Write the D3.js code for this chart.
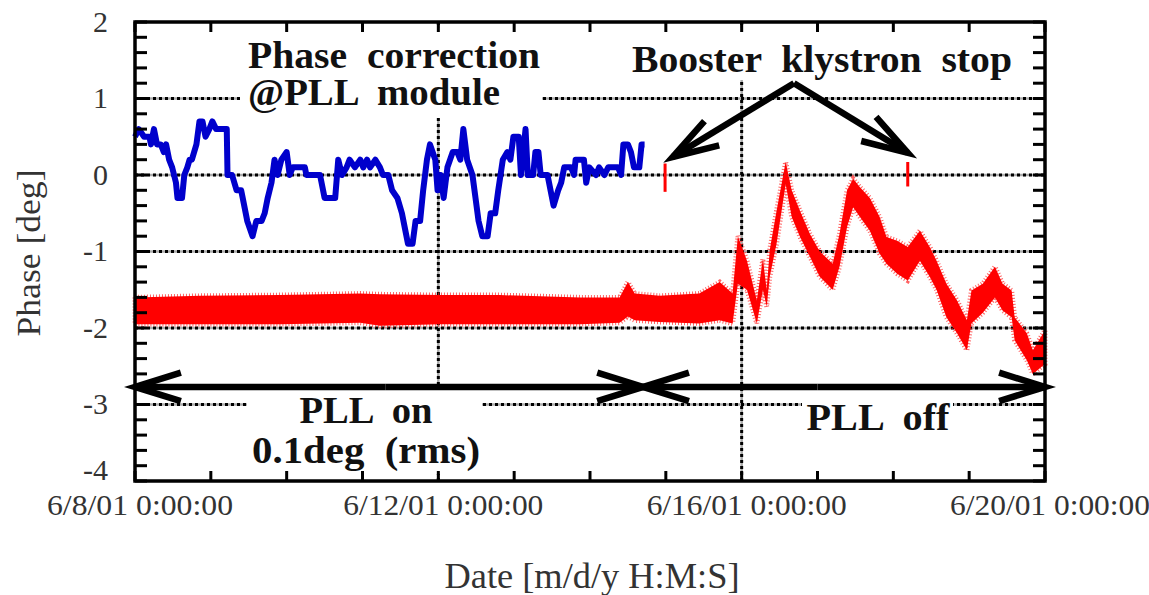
<!DOCTYPE html>
<html>
<head>
<meta charset="utf-8">
<script src="https://cdn.jsdelivr.net/npm/d3@7"></script>
<style>
  body { margin: 0; background: #fff; }
  svg text { font-family: "Liberation Serif", "Times New Roman", serif; }
</style>
</head>
<body>
<div id="chart"></div>
<script>
// Phase correction at the PLL module (days after 6/8/01 0:00, deg)
const blueDays = [0.0,0.05,0.12,0.19,0.21,0.25,0.29,0.34,0.38,0.41,0.45,0.49,0.54,0.56,0.62,0.65,0.69,0.72,0.75,0.81,
  0.85,0.89,0.93,0.98,1.02,1.07,1.21,1.22,1.28,1.34,1.40,1.42,1.48,1.55,1.60,1.67,1.71,1.75,1.80,1.84,
  1.88,1.93,2.00,2.04,2.08,2.24,2.26,2.44,2.50,2.64,2.68,2.73,2.79,2.83,2.90,2.97,3.01,3.06,3.10,3.17,
  3.23,3.27,3.34,3.39,3.46,3.52,3.56,3.60,3.66,3.70,3.76,3.80,3.85,3.89,3.96,3.99,4.03,4.07,4.12,4.19,
  4.25,4.29,4.33,4.38,4.45,4.49,4.53,4.58,4.65,4.69,4.75,4.79,4.85,4.91,4.95,4.99,5.06,5.09,5.13,5.15,
  5.18,5.25,5.28,5.32,5.35,5.44,5.48,5.52,5.58,5.62,5.66,5.75,5.79,5.81,5.92,5.95,5.99,6.08,6.12,6.19,
  6.24,6.37,6.41,6.44,6.50,6.54,6.58,6.65,6.68,6.72];
const blueValues = [0.5,0.6,0.5,0.5,0.4,0.6,0.4,0.4,0.3,0.4,0.2,0.1,-0.1,-0.3,-0.3,0,0.1,0.2,0.2,0.4,
  0.7,0.7,0.5,0.6,0.7,0.6,0.6,0,0,-0.2,-0.2,-0.3,-0.6,-0.8,-0.6,-0.6,-0.5,-0.3,-0.1,0.2,
  0,0.2,0.3,0,0.1,0.1,0,0,-0.3,-0.3,0.2,0,0.1,0.2,0.1,0.2,0.1,0.2,0.1,0.2,
  0.1,0,0,-0.2,-0.3,-0.5,-0.7,-0.9,-0.9,-0.6,-0.6,-0.2,0.2,0.4,0.2,-0.2,0,-0.3,0.1,0.3,
  0.3,0.2,0.6,0.2,0,-0.3,-0.6,-0.8,-0.8,-0.5,-0.5,-0.2,0.2,0.3,0.2,0.5,0.5,0,0.4,0.6,
  0,0,0.3,0.3,0,0,-0.2,-0.4,-0.2,-0.1,0.1,0.1,0,0.2,0.2,-0.1,0.1,0,0.1,0,
  0.1,0.1,0,0.4,0.4,0.3,0.1,0.1,0.4,0.4];

// Measured phase band (upper / lower edge of the scatter)
const redDays = [0,0.86,1.91,2.97,3.23,4.02,4.81,5.87,6.39,6.50,6.59,6.92,7.44,7.71,7.88,7.95,8.07,8.20,8.28,8.33,
  8.37,8.46,8.58,8.66,8.77,8.90,9.03,9.20,9.29,9.39,9.47,9.56,9.69,9.82,9.91,10.05,10.19,10.35,10.48,10.57,
  10.70,10.84,10.97,11.03,11.18,11.34,11.44,11.56,11.60,11.76,11.84,12.0];
const redHigh = [-1.6,-1.58,-1.57,-1.55,-1.56,-1.57,-1.57,-1.6,-1.6,-1.4,-1.55,-1.58,-1.55,-1.4,-1.55,-0.8,-1.12,-1.64,-1.1,-1.5,
  -0.98,-0.47,0.17,-0.2,-0.47,-0.77,-1.0,-1.16,-0.77,-0.2,-0.05,-0.16,-0.3,-0.55,-0.81,-0.86,-0.94,-0.73,-0.94,-1.12,
  -1.42,-1.64,-1.9,-1.51,-1.42,-1.2,-1.42,-1.51,-1.86,-2.07,-2.29,-2.03];
const redLow = [-1.95,-1.95,-1.95,-1.93,-1.97,-1.95,-1.95,-1.95,-1.93,-1.85,-1.9,-1.92,-1.94,-1.9,-1.94,-1.42,-1.5,-1.94,-1.5,-1.72,
  -1.33,-0.9,-0.12,-0.55,-0.81,-1.07,-1.33,-1.5,-1.2,-0.68,-0.42,-0.55,-0.73,-1.03,-1.16,-1.29,-1.38,-1.12,-1.33,-1.5,
  -1.86,-2.07,-2.29,-1.94,-1.8,-1.6,-1.77,-1.86,-2.16,-2.42,-2.6,-2.47];

// Short bursts when the booster klystron stopped
const stopDays = [6.99, 10.19];
const stopHigh = [0.15, 0.17];
const stopLow = [-0.22, -0.15];

const xTickDays = [0, 4, 8, 12];
const yTicks = [2, 1, 0, -1, -2, -3, -4];

const W = 1149, H = 595;
const base = new Date(2001, 5, 8);
const toDate = d => new Date(base.getTime() + d * 86400000);

const svg = d3.select('#chart').append('svg')
    .attr('width', W).attr('height', H)
    .style('background', '#fff');

const x = d3.scaleTime().domain([base, toDate(12)]).range([135, 1045]);
const y = d3.scaleLinear().domain([-4, 2]).range([481, 22]);
const fmt = d3.timeFormat('%-m/%-d/%y 0:00:00');

// Grid lines (dotted: grey underlay + black dashes)
function gridLines(g) {
  g.selectAll('line.h').data(yTicks.slice(1, -1)).enter().append('line')
      .attr('x1', x.range()[0]).attr('x2', x.range()[1])
      .attr('y1', d => y(d)).attr('y2', d => y(d));
  g.selectAll('line.v').data(xTickDays.slice(1, -1)).enter().append('line')
      .attr('x1', d => x(toDate(d))).attr('x2', d => x(toDate(d)))
      .attr('y1', y(2)).attr('y2', y(-4));
}
gridLines(svg.append('g').attr('stroke', '#aaa').attr('stroke-width', 2.5));
gridLines(svg.append('g').attr('stroke', '#000').attr('stroke-width', 3)
    .attr('stroke-dasharray', '3,3'));

// white boxes behind annotation text (they cut the grid)
const boxes = [[240, 28, 302, 90], [625, 28, 395, 52], [247, 384, 235, 90], [802, 392, 151, 50]];
svg.selectAll('rect.box').data(boxes).enter().append('rect')
    .attr('x', d => d[0]).attr('y', d => d[1]).attr('width', d => d[2]).attr('height', d => d[3])
    .attr('fill', '#fff');

// Measured phase (red band)
const redData = redDays.map((d, i) => ({date: toDate(d), hi: redHigh[i], lo: redLow[i]}));
const band = d3.area().x(d => x(d.date)).y0(d => y(d.lo)).y1(d => y(d.hi));
svg.append('path').datum(redData)
    .attr('d', band)
    .attr('fill', 'none')
    .attr('stroke', '#ff2020').attr('stroke-width', 5).attr('stroke-dasharray', '1,2')
    .attr('stroke-opacity', 0.7);
svg.append('path').datum(redData)
    .attr('d', band)
    .attr('fill', '#ff0000');

svg.selectAll('rect.stop').data(stopDays).enter().append('rect')
    .attr('x', d => x(toDate(d)) - 1.5).attr('width', 3)
    .attr('y', (d, i) => y(stopHigh[i]))
    .attr('height', (d, i) => y(stopLow[i]) - y(stopHigh[i]))
    .attr('fill', '#ff0000');

// Phase correction (blue line)
const blueData = blueDays.map((d, i) => ({date: toDate(d), v: blueValues[i]}));
svg.append('path').datum(blueData)
    .attr('d', d3.line().x(d => x(d.date)).y(d => y(d.v)))
    .attr('fill', 'none').attr('stroke', '#0000cc').attr('stroke-width', 6)
    .attr('stroke-linejoin', 'round');

// Frame and inward ticks
svg.append('rect').attr('x', 135).attr('y', 22).attr('width', 910).attr('height', 459)
    .attr('fill', 'none').attr('stroke', '#000').attr('stroke-width', 3.5);
const minorY = d3.range(-4, 2.001, 0.2);
const ticks = svg.append('g').attr('stroke', '#000').attr('stroke-width', 3);
ticks.selectAll('line.yl').data(minorY).enter().append('line')
    .attr('x1', 135).attr('x2', 147).attr('y1', d => y(d)).attr('y2', d => y(d));
ticks.selectAll('line.yr').data(minorY).enter().append('line')
    .attr('x1', 1033).attr('x2', 1045).attr('y1', d => y(d)).attr('y2', d => y(d));
const minorX = d3.range(0, 13);
ticks.selectAll('line.xb').data(minorX).enter().append('line')
    .attr('x1', d => x(toDate(d))).attr('x2', d => x(toDate(d)))
    .attr('y1', 481).attr('y2', 471);
ticks.selectAll('line.xt').data(minorX).enter().append('line')
    .attr('x1', d => x(toDate(d))).attr('x2', d => x(toDate(d)))
    .attr('y1', 22).attr('y2', 32);

// Axis labels (the bottom one sits a little higher, as in the original)
svg.selectAll('text.yt').data(yTicks).enter().append('text')
    .attr('x', 108).attr('y', d => y(d) - (d === -4 ? 11 : 0)).attr('dy', '0.33em')
    .attr('text-anchor', 'end').attr('font-size', 30).attr('fill', '#333')
    .text(d => d);
svg.selectAll('text.xt').data(xTickDays).enter().append('text')
    .attr('x', d => x(toDate(d)) + 5).attr('y', 515)
    .attr('text-anchor', 'middle').attr('font-size', 29).attr('fill', '#333')
    .attr('textLength', d => d === 0 ? 186 : 200).attr('lengthAdjust', 'spacingAndGlyphs')
    .text(d => fmt(toDate(d)));
svg.append('text').attr('x', 592).attr('y', 588).attr('text-anchor', 'middle')
    .attr('font-size', 36).attr('fill', '#333')
    .attr('textLength', 295).attr('lengthAdjust', 'spacingAndGlyphs')
    .text('Date [m/d/y H:M:S]');
svg.append('text').attr('transform', 'translate(40,253) rotate(-90)')
    .attr('text-anchor', 'middle').attr('font-size', 34).attr('fill', '#333')
    .attr('textLength', 167).attr('lengthAdjust', 'spacingAndGlyphs')
    .text('Phase [deg]');

// Annotations
const notes = [
  {t: 'Phase  correction', cx: 394, by: 68, w: 292},
  {t: '@PLL  module', cx: 374, by: 105, w: 252},
  {t: 'Booster  klystron  stop', cx: 822, by: 72, w: 380},
  {t: 'PLL  on', cx: 366, by: 423, w: 133},
  {t: '0.1deg  (rms)', cx: 366, by: 463, w: 228},
  {t: 'PLL  off', cx: 878, by: 430, w: 143}
];
svg.selectAll('text.note').data(notes).enter().append('text')
    .attr('x', d => d.cx).attr('y', d => d.by).attr('text-anchor', 'middle')
    .attr('font-size', 37).attr('font-weight', 'bold').attr('fill', '#111')
    .attr('textLength', d => d.w).attr('lengthAdjust', 'spacingAndGlyphs')
    .style('white-space', 'pre')
    .text(d => d.t);

// Arrows: from (day, value) to tip (day, value)
const arrowG = svg.append('g').attr('stroke', '#000').attr('stroke-width', 6.5)
    .attr('fill', 'none');
function arrow(d0, v0, d1, v1) {
  const x0 = x(toDate(d0)), y0 = y(v0), x1 = x(toDate(d1)), y1 = y(v1);
  const ang = Math.atan2(y0 - y1, x0 - x1), len = 48, spread = 0.3;
  const a = [x1 + len * Math.cos(ang - spread), y1 + len * Math.sin(ang - spread)];
  const b = [x1 + len * Math.cos(ang + spread), y1 + len * Math.sin(ang + spread)];
  arrowG.append('line').attr('x1', x0).attr('y1', y0).attr('x2', x1).attr('y2', y1);
  arrowG.append('path').attr('d', `M${a}L${x1},${y1}L${b}`);
}
arrow(3.3, -2.77, 0, -2.77);
arrow(3.3, -2.77, 6.7, -2.77);
arrow(9.0, -2.77, 6.7, -2.77);
arrow(9.0, -2.77, 12, -2.77);
arrow(8.69, 1.2, 7.09, 0.235);
arrow(8.69, 1.2, 10.19, 0.29);
</script>
</body>
</html>
